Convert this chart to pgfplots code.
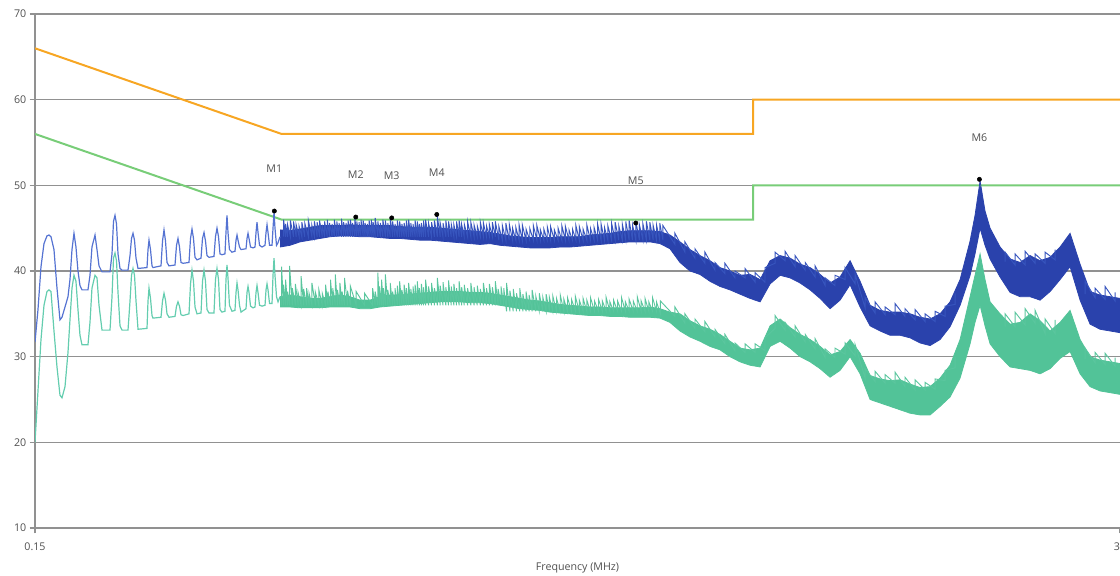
\documentclass[border=0pt]{standalone}
\usepackage{pgfplots}
\pgfplotsset{compat=1.18}
\usepackage{pgfplotstable}
\usepgfplotslibrary{fillbetween}
\usepackage{fontspec}
\setmainfont{Open Sans}
\definecolor{gridc}{RGB}{145,145,145}
\definecolor{txtc}{RGB}{80,80,80}
\definecolor{qp}{RGB}{247,166,35}
\definecolor{av}{RGB}{120,205,120}
\definecolor{bband}{RGB}{42,66,172}
\definecolor{tband}{RGB}{82,195,152}
\definecolor{bthin}{RGB}{85,115,210}
\definecolor{tthin}{RGB}{100,205,175}
\definecolor{bspk}{RGB}{55,85,190}
\definecolor{tspk}{RGB}{90,198,158}

% low-frequency part of the traces: frequency (MHz), peak (b), average (t)
\pgfplotstableread{
f b t
0.15000 31.7 20.0
0.15221 35.5 26.0
0.15446 40.5 32.0
0.15674 43.2 36.0
0.15905 44.1 37.6
0.16061 44.2 37.8
0.16219 44.0 37.6
0.16458 42.5 33.0
0.16701 38.0 28.8
0.16948 34.3 25.5
0.17114 34.6 25.2
0.17367 35.8 26.5
0.17623 37.0 30.5
0.17796 39.0 34.3
0.17971 42.5 38.0
0.18147 44.4 39.5
0.18325 42.8 38.8
0.18505 40.0 35.5
0.18687 38.3 32.5
0.18870 37.8 31.4
0.19431 37.8 31.4
0.19622 39.5 34.0
0.19815 42.8 38.0
0.20107 44.2 39.5
0.20304 42.5 39.2
0.20504 40.6 36.0
0.20806 39.9 33.1
0.21635 39.9 33.1
0.21848 42.0 37.0
0.22008 45.8 41.5
0.22170 46.5 42.1
0.22333 45.5 41.2
0.22497 42.0 37.5
0.22718 40.3 33.6
0.22941 40.1 33.1
0.23623 40.1 33.1
0.23855 41.8 36.5
0.24030 43.8 39.5
0.24207 44.4 40.3
0.24385 43.6 39.5
0.24564 41.5 36.5
0.24805 40.3 33.2
0.25920 40.4 33.3
0.26047 42.5 36.5
0.26174 43.6 38.0
0.26367 42.5 36.8
0.26561 40.6 34.8
0.26691 40.4 34.5
0.27754 40.6 34.6
0.27958 43.5 36.5
0.28164 44.8 37.4
0.28371 43.5 36.6
0.28580 41.0 35.0
0.28860 40.6 34.6
0.29718 40.7 34.7
0.29937 43.0 35.9
0.30156 43.8 36.4
0.30378 42.8 35.9
0.30602 41.0 34.9
0.30902 40.9 34.8
0.31821 41.0 35.0
0.32055 43.8 38.5
0.32290 44.9 40.1
0.32528 43.8 38.8
0.32767 41.6 35.8
0.33088 41.3 35.0
0.33741 41.5 35.1
0.33989 43.8 38.8
0.34239 44.5 40.1
0.34491 43.5 38.8
0.34744 41.8 35.5
0.35085 41.6 35.1
0.35953 41.7 35.1
0.36217 44.0 39.0
0.36484 45.0 40.3
0.36752 44.0 39.0
0.37022 42.0 35.5
0.37385 41.9 35.2
0.37937 42.0 35.3
0.38122 44.5 39.0
0.38309 46.5 40.7
0.38496 44.5 39.2
0.38779 42.5 36.0
0.39256 42.2 35.3
0.39836 42.3 35.4
0.40031 43.6 37.5
0.40227 44.2 38.6
0.40424 43.6 37.8
0.40721 42.8 36.0
0.41020 42.5 35.2
0.42034 42.6 35.6
0.42241 43.8 37.5
0.42447 44.4 38.2
0.42656 43.8 37.5
0.42969 42.8 35.9
0.43497 42.7 35.7
0.43923 42.8 35.8
0.44139 44.5 37.5
0.44354 45.7 38.3
0.44572 44.5 37.5
0.44900 43.0 36.0
0.45451 42.8 35.9
0.46121 43.0 36.0
0.46347 44.5 37.8
0.46574 45.4 38.5
0.46802 44.5 37.8
0.47146 43.0 36.2
0.47725 43.0 36.2
0.47959 45.0 39.5
0.48194 46.9 41.5
0.48420 45.0 39.5
0.48786 43.0 37.0
0.49145 43.3 36.4
0.49627 44.0 37.0
}\lowtab

% dense part: envelope of the noisy band, peak (bU,bL) and average (tU,tL)
\pgfplotstableread{
f bU bL tU tL
0.4963 44.8 42.8 37.0 35.8
0.5212 44.7 43.0 37.2 35.8
0.5473 44.9 43.4 37.0 35.7
0.5746 45.1 43.6 36.8 35.7
0.6034 45.3 43.8 36.8 35.7
0.6336 45.3 44.0 37.0 35.8
0.6653 45.3 44.1 37.2 35.8
0.6986 45.4 44.1 37.0 35.8
0.7335 45.3 44.0 36.6 35.6
0.7702 45.3 44.0 36.6 35.6
0.8088 45.3 43.9 37.0 35.8
0.8492 45.3 43.8 37.2 35.9
0.8917 45.2 43.8 37.2 36.0
0.9363 45.1 43.7 37.3 36.1
0.9832 45.1 43.6 37.4 36.2
1.0324 45.1 43.6 37.5 36.3
1.0840 45.0 43.5 37.6 36.4
1.1383 44.9 43.4 37.6 36.4
1.1952 44.8 43.3 37.6 36.4
1.2550 44.7 43.2 37.5 36.3
1.3182 44.6 43.1 37.5 36.3
1.3840 44.5 43.2 37.4 36.2
1.4533 44.3 43.0 37.2 36.0
1.5260 44.1 42.9 37.0 35.8
1.6023 44.0 42.8 36.8 35.6
1.6825 43.9 42.7 36.6 35.5
1.7666 43.9 42.7 36.5 35.4
1.8550 43.9 42.7 36.3 35.2
1.9478 44.0 42.8 36.1 35.1
2.0452 44.0 42.8 36.0 35.0
2.1475 44.0 42.9 35.9 34.9
2.2550 44.2 43.0 35.8 34.8
2.3678 44.3 43.1 35.8 34.8
2.4862 44.4 43.2 35.7 34.7
2.6106 44.6 43.3 35.7 34.7
2.7412 44.7 43.4 35.7 34.6
2.8783 44.7 43.4 35.7 34.6
3.0223 44.7 43.4 35.8 34.6
3.1735 44.6 43.2 35.6 34.5
3.3322 44.2 42.6 35.2 34.0
3.4989 43.4 41.0 35.0 33.0
3.6740 42.5 40.0 34.2 32.3
3.8578 41.8 39.6 33.6 31.8
4.0507 41.2 38.8 33.2 31.2
4.2534 40.4 38.2 32.6 30.8
4.4662 40.0 37.8 31.8 30.0
4.6896 39.5 37.3 31.0 29.4
4.9275 39.6 36.8 30.8 29.0
5.174 39.0 36.4 31.0 28.8
5.433 41.2 38.5 33.6 31.2
5.705 41.8 39.5 34.4 31.8
5.990 41.5 39.2 33.4 31.0
6.291 40.8 38.6 32.6 30.0
6.605 40.4 37.8 32.0 29.4
6.935 39.6 36.8 31.2 28.6
7.282 38.6 35.6 30.2 27.6
7.647 39.3 36.6 30.6 28.4
8.029 41.2 38.4 32.0 30.0
8.431 38.8 35.8 30.4 28.0
8.853 36.0 33.6 27.8 25.0
9.296 35.4 33.0 27.4 24.6
9.761 35.2 32.5 27.2 24.2
10.249 35.2 32.5 27.3 23.8
10.763 35.0 32.2 26.8 23.4
11.301 34.6 31.6 26.4 23.2
11.867 34.4 31.3 26.5 23.2
12.461 35.0 32.0 27.5 24.2
13.084 36.4 33.5 29.0 25.3
13.739 39.0 36.0 32.0 27.5
14.426 43.5 39.5 37.0 31.5
14.78 46.5 42.0 39.5 34.0
15.148 50.5 45.0 42.0 36.0
15.52 47.0 43.0 39.0 33.6
15.906 45.0 41.4 36.4 31.5
16.703 42.8 39.3 35.0 30.0
17.541 41.4 37.5 33.8 28.8
18.419 41.0 37.0 34.0 28.6
19.339 41.8 37.0 35.0 28.4
20.306 41.2 36.6 34.2 28.0
21.323 41.6 37.6 33.0 28.6
22.390 42.8 39.0 34.0 29.8
23.509 44.4 40.5 35.4 30.6
24.685 40.8 36.6 32.0 28.0
25.920 37.6 33.8 30.0 26.5
27.216 37.2 33.2 29.6 26.0
28.577 37.0 33.0 29.4 25.8
30.0 36.8 32.8 29.2 25.6
}\bandtab

% noise of the peak trace above its band: each spike rises from its foot to its top
\pgfplotstableread{
f y
0.505 44.0
0.505 46.0
0.51 44.0
0.51 45.5
0.515 44.0
0.515 45.4
0.522 44.0
0.522 45.9
0.53 44.0
0.53 45.8
0.537 44.0
0.537 45.4
0.545 44.0
0.545 45.2
0.552 44.0
0.552 45.7
0.56 44.0
0.56 45.6
0.57 44.0
0.57 45.9
0.58 44.0
0.58 45.3
0.587 44.0
0.587 45.8
0.595 44.0
0.595 45.7
0.602 44.0
0.602 45.9
0.61 44.0
0.61 45.4
0.617 44.0
0.617 45.8
0.625 44.0
0.625 46.0
0.632 44.0
0.632 45.6
0.64 44.0
0.64 45.5
0.647 44.0
0.647 46.0
0.655 44.0
0.655 45.8
0.662 44.0
0.662 45.6
0.67 44.0
0.67 46.1
0.677 44.0
0.677 45.7
0.685 44.0
0.685 45.6
0.692 44.0
0.692 45.9
0.70 44.0
0.70 46.0
0.707 44.0
0.707 45.6
0.715 44.0
0.715 46.3
0.722 44.0
0.722 45.8
0.73 44.0
0.73 45.7
0.737 44.0
0.737 46.0
0.745 44.0
0.745 45.9
0.752 44.0
0.752 45.6
0.76 44.0
0.76 45.5
0.767 44.0
0.767 45.9
0.775 44.0
0.775 46.0
0.782 44.0
0.782 45.7
0.79 44.0
0.79 46.2
0.80 44.0
0.80 45.8
0.81 44.0
0.81 45.6
0.82 44.0
0.82 46.0
0.83 44.0
0.83 45.9
0.84 44.0
0.84 45.6
0.85 44.0
0.85 46.3
0.86 44.0
0.86 45.8
0.87 44.0
0.87 45.5
0.88 44.0
0.88 45.9
0.89 44.0
0.89 45.8
0.90 44.0
0.90 45.5
0.91 44.0
0.91 45.6
0.92 44.0
0.92 45.9
0.93 44.0
0.93 46.0
0.94 44.0
0.94 45.6
0.95 44.0
0.95 45.5
0.96 44.0
0.96 45.9
0.97 44.0
0.97 45.8
0.98 44.0
0.98 45.5
0.99 44.0
0.99 45.6
1.00 44.0
1.00 45.9
1.01 44.0
1.01 46.0
1.025 44.0
1.025 45.6
1.04 44.0
1.04 45.7
1.055 44.0
1.055 45.9
1.07 44.0
1.07 46.4
1.085 44.0
1.085 45.6
1.10 44.0
1.10 45.6
1.115 44.0
1.115 45.9
1.13 44.0
1.13 45.8
1.145 44.0
1.145 45.5
1.16 44.0
1.16 45.4
1.175 44.0
1.175 45.8
1.19 44.0
1.19 45.9
1.205 44.0
1.205 45.4
1.22 44.0
1.22 45.5
1.24 44.0
1.24 45.8
1.26 44.0
1.26 45.7
1.28 44.0
1.28 45.4
1.30 44.0
1.30 45.3
1.32 44.0
1.32 45.7
1.34 44.0
1.34 45.6
1.36 44.0
1.36 45.3
1.38 44.0
1.38 45.4
1.40 44.0
1.40 45.7
1.42 44.0
1.42 45.8
1.445 43.6
1.445 45.2
1.47 43.6
1.47 45.3
1.495 43.6
1.495 45.6
1.52 43.6
1.52 45.5
1.545 43.6
1.545 45.0
1.57 43.6
1.57 45.1
1.595 43.6
1.595 45.4
1.62 43.6
1.62 45.4
1.65 43.6
1.65 44.9
1.68 43.6
1.68 45.0
1.71 43.6
1.71 45.3
1.74 43.6
1.74 45.3
1.77 43.6
1.77 44.8
1.80 43.6
1.80 44.9
1.83 43.6
1.83 45.2
1.86 43.6
1.86 45.2
1.895 43.6
1.895 44.8
1.93 43.6
1.93 45.0
1.965 43.6
1.965 45.3
2.00 43.6
2.00 45.2
2.035 43.6
2.035 44.8
2.07 43.6
2.07 44.9
2.105 43.6
2.105 45.3
2.14 43.6
2.14 45.2
2.18 43.6
2.18 44.9
2.22 43.6
2.22 45.4
2.26 43.6
2.26 45.0
2.30 43.6
2.30 45.1
2.34 43.6
2.34 45.5
2.38 43.6
2.38 45.5
2.42 43.6
2.42 45.1
2.46 43.6
2.46 45.3
2.505 43.6
2.505 45.6
2.55 43.6
2.55 45.7
2.595 43.6
2.595 45.3
2.64 43.6
2.64 45.5
2.685 43.6
2.685 45.8
2.73 43.6
2.73 45.9
2.775 43.6
2.775 45.4
2.82 43.6
2.82 45.8
2.87 43.6
2.87 45.4
2.92 43.6
2.92 45.5
2.97 43.6
2.97 45.8
3.02 43.6
3.02 45.7
3.07 43.6
3.07 45.3
3.12 43.6
3.12 45.4
3.17 43.6
3.17 45.6
3.22 43.6
3.22 45.3
3.414 43.1
3.414 44.4
3.585 42.2
3.585 43.4
3.765 41.5
3.765 42.6
3.953 40.9
3.953 42.2
4.151 40.1
4.151 41.0
4.358 39.7
4.358 40.9
4.577 39.2
4.577 40.0
4.807 39.2
4.807 40.3
5.05 38.7
5.05 39.8
5.30 38.7
5.30 40.4
5.567 40.9
5.567 42.2
5.846 41.2
5.846 42.3
6.14 40.5
6.14 41.8
6.45 40.1
6.45 41.0
6.77 39.3
6.77 40.6
7.11 38.3
7.11 39.2
7.46 38.3
7.46 39.5
7.84 39.0
7.84 40.4
8.23 38.5
8.23 39.6
8.64 35.7
8.64 36.9
9.07 35.1
9.07 36.4
9.53 34.9
9.53 35.8
10.0 34.9
10.0 36.2
10.5 34.7
10.5 35.6
11.03 34.3
11.03 35.5
11.58 34.1
11.58 35.0
12.16 34.1
12.16 35.3
12.77 34.7
12.77 35.9
13.41 36.1
13.41 37.4
13.41 nan
17.12 41.1
17.12 42.2
17.97 40.7
17.97 42.0
18.88 40.7
18.88 42.3
19.82 40.9
19.82 42.0
20.81 40.9
20.81 42.2
21.85 41.3
21.85 42.5
21.85 nan
25.3 37.3
25.3 38.8
26.56 36.9
26.56 38.0
27.89 36.7
27.89 38.2
29.28 36.5
29.28 37.5
}\bspikes

% noise of the average trace above its band
\pgfplotstableread{
f y
0.50 36.0
0.50 40.5
0.505 36.0
0.505 38.4
0.51 36.0
0.51 39.0
0.515 36.0
0.515 37.6
0.52 36.0
0.52 40.6
0.527 36.0
0.527 38.0
0.535 36.0
0.535 38.5
0.542 36.0
0.542 37.5
0.55 36.0
0.55 39.4
0.557 36.0
0.557 37.9
0.565 36.0
0.565 38.0
0.572 36.0
0.572 37.4
0.58 36.0
0.58 38.6
0.59 36.0
0.59 37.5
0.60 36.0
0.60 37.8
0.61 36.0
0.61 37.4
0.62 36.0
0.62 38.4
0.627 36.0
0.627 37.6
0.635 36.0
0.635 39.0
0.642 36.0
0.642 38.0
0.65 36.0
0.65 39.6
0.657 36.0
0.657 37.8
0.665 36.0
0.665 38.6
0.672 36.0
0.672 37.6
0.68 36.0
0.68 39.2
0.69 36.0
0.69 37.7
0.70 36.0
0.70 38.2
0.72 36.0
0.72 37.6
0.75 36.0
0.75 37.4
0.78 36.0
0.78 38.0
0.79 36.0
0.79 37.6
0.80 36.0
0.80 39.8
0.807 36.0
0.807 38.2
0.815 36.0
0.815 39.0
0.822 36.0
0.822 38.0
0.83 36.0
0.83 39.6
0.84 36.0
0.84 37.8
0.85 36.0
0.85 38.6
0.86 36.0
0.86 37.6
0.87 36.0
0.87 38.0
0.88 36.0
0.88 38.3
0.89 36.0
0.89 38.8
0.90 36.0
0.90 37.8
0.91 36.0
0.91 38.4
0.92 36.0
0.92 38.0
0.93 36.0
0.93 38.6
0.94 36.0
0.94 37.9
0.95 36.0
0.95 38.2
0.96 36.0
0.96 38.4
0.97 36.0
0.97 38.8
0.98 36.0
0.98 38.0
0.99 36.0
0.99 38.5
1.00 36.0
1.00 38.1
1.01 36.0
1.01 39.0
1.025 36.0
1.025 38.2
1.04 36.0
1.04 38.6
1.055 36.0
1.055 38.0
1.07 36.0
1.07 39.2
1.085 36.0
1.085 38.3
1.10 36.0
1.10 38.7
1.115 36.0
1.115 38.1
1.13 36.0
1.13 38.9
1.145 36.0
1.145 38.2
1.16 36.0
1.16 38.5
1.175 36.0
1.175 38.0
1.19 36.0
1.19 38.8
1.205 36.0
1.205 38.1
1.22 36.0
1.22 38.4
1.24 36.0
1.24 38.0
1.26 36.0
1.26 38.6
1.28 36.0
1.28 38.1
1.30 36.0
1.30 38.3
1.32 36.0
1.32 37.9
1.34 36.0
1.34 38.6
1.36 36.0
1.36 38.0
1.38 36.0
1.38 38.5
1.40 36.0
1.40 38.1
1.42 36.0
1.42 38.8
1.44 36.0
1.44 37.9
1.46 36.0
1.46 38.2
1.48 36.0
1.48 38.0
1.50 35.3
1.50 38.6
1.525 35.3
1.525 37.7
1.55 35.3
1.55 37.9
1.575 35.3
1.575 37.4
1.60 35.3
1.60 38.0
1.625 35.3
1.625 37.3
1.65 35.3
1.65 37.6
1.675 35.3
1.675 37.2
1.70 35.3
1.70 37.8
1.73 35.3
1.73 37.1
1.76 35.3
1.76 37.4
1.79 35.3
1.79 37.0
1.82 35.3
1.82 37.3
1.85 35.3
1.85 36.9
1.88 35.3
1.88 37.1
1.915 35.3
1.915 36.8
1.95 35.3
1.95 37.2
1.985 35.3
1.985 36.7
2.02 35.3
2.02 36.9
2.06 35.3
2.06 36.7
2.10 35.3
2.10 37.0
2.14 35.3
2.14 36.6
2.18 35.3
2.18 36.8
2.22 35.3
2.22 36.6
2.26 35.3
2.26 36.9
2.305 35.3
2.305 36.5
2.35 35.3
2.35 36.7
2.395 35.3
2.395 36.5
2.44 35.3
2.44 36.9
2.485 35.3
2.485 36.4
2.53 35.3
2.53 36.6
2.58 35.3
2.58 36.5
2.63 35.3
2.63 36.9
2.68 35.3
2.68 36.4
2.73 35.3
2.73 36.7
2.785 35.3
2.785 36.5
2.84 35.3
2.84 37.0
2.895 35.3
2.895 36.5
2.95 35.3
2.95 36.8
3.005 35.3
3.005 36.4
3.06 35.3
3.06 36.9
3.12 35.3
3.12 36.4
3.18 35.0
3.18 36.5
3.414 34.7
3.414 35.8
3.585 33.9
3.585 35.0
3.765 33.3
3.765 34.4
3.953 32.9
3.953 34.1
4.151 32.3
4.151 33.2
4.358 31.5
4.358 32.6
4.577 30.7
4.577 31.6
4.807 30.5
4.807 31.5
5.05 30.5
5.05 31.5
5.30 30.7
5.30 32.2
5.567 33.3
5.567 34.8
5.846 33.1
5.846 34.0
6.14 32.3
6.14 33.6
6.45 31.7
6.45 32.6
6.77 30.9
6.77 32.1
7.11 29.9
7.11 30.9
7.46 29.9
7.46 31.0
7.84 30.3
7.84 31.6
8.23 30.1
8.23 31.4
8.64 27.5
8.64 28.6
9.07 27.1
9.07 28.3
9.53 26.9
9.53 27.9
10.0 26.9
10.0 28.2
10.5 26.5
10.5 27.6
11.03 26.1
11.03 27.3
11.58 26.1
11.58 27.0
12.16 26.2
12.16 27.4
12.77 27.2
12.77 28.4
13.41 28.7
13.41 30.0
13.41 nan
17.12 33.5
17.12 35.0
17.97 33.5
17.97 35.2
18.88 33.7
18.88 35.6
19.82 33.9
19.82 35.4
20.81 32.7
20.81 34.4
21.85 32.7
21.85 34.3
21.85 nan
25.3 29.7
25.3 31.0
26.56 29.3
26.56 30.5
27.89 29.1
27.89 30.4
29.28 28.9
29.28 29.9
}\tspikes

\begin{document}
\begin{tikzpicture}
\begin{axis}[
  at={(0,0)}, anchor=south west,
  scale only axis,
  width=813.75pt, height=385.5pt,
  xmode=log,
  xmin=0.15, xmax=30, ymin=10, ymax=70,
  xtick={0.15,30}, xticklabels={0.15,30},
  minor xtick={},
  ytick={10,20,...,70},
  axis x line*=bottom, axis y line*=left,
  axis line style={gridc, line width=1.2pt, -},
  ymajorgrids, grid style={gridc, line width=1.2pt},
  tick style={gridc, line width=0.8pt},
  tick align=outside, major tick length=4pt,
  /pgf/number format/assume math mode=true,
  tick label style={font=\fontsize{8}{9}\selectfont, text=txtc},
  xticklabel style={anchor=center, yshift=-10pt},
  yticklabel style={anchor=east, xshift=1pt},
  xlabel={Frequency (MHz)},
  xlabel style={font=\fontsize{8}{9}\selectfont, text=txtc, at={(axis description cs:0.5,0)}, anchor=center, yshift=-30pt},
  unbounded coords=jump,
  clip=true,
]
% limit lines
\addplot[qp, line width=1.5pt] coordinates {(0.15,66) (0.5,56) (5,56) (5,60) (30,60)};
\addplot[av, line width=1.5pt] coordinates {(0.15,56) (0.5,46) (5,46) (5,50) (30,50)};
% average trace
\addplot[tthin, line width=0.9pt] table[x=f, y=t] {\lowtab};
\addplot[name path=tu, tband, line width=0.6pt] table[x=f, y=tU] {\bandtab};
\addplot[name path=tl, tband, line width=0.6pt] table[x=f, y=tL] {\bandtab};
\addplot[tband] fill between[of=tu and tl];
\addplot[tspk, line width=0.7pt, mark=none] table[x=f, y=y] {\tspikes};
% peak trace
\addplot[bthin, line width=0.9pt] table[x=f, y=b] {\lowtab};
\addplot[name path=bu, bband, line width=0.6pt] table[x=f, y=bU] {\bandtab};
\addplot[name path=bl, bband, line width=0.6pt] table[x=f, y=bL] {\bandtab};
\addplot[bband] fill between[of=bu and bl];
\addplot[bspk, line width=0.7pt, mark=none] table[x=f, y=y] {\bspikes};
% markers
\addplot[only marks, mark=*, mark size=1.6pt, black,
  nodes near coords, point meta=explicit symbolic,
  every node near coord/.style={anchor=center, yshift=31.5pt, font=\fontsize{8}{9}\selectfont, text=txtc}]
  coordinates {(0.4827,47.0)[M1] (0.7184,46.3)[M2] (0.8563,46.2)[M3] (1.0670,46.6)[M4] (2.8195,45.6)[M5] (15.10,50.7)[M6]};
\end{axis}
\pgfresetboundingbox
\path[use as bounding box] (-26.25pt,-35.25pt) rectangle (813.75pt,396pt);
\end{tikzpicture}
\end{document}
